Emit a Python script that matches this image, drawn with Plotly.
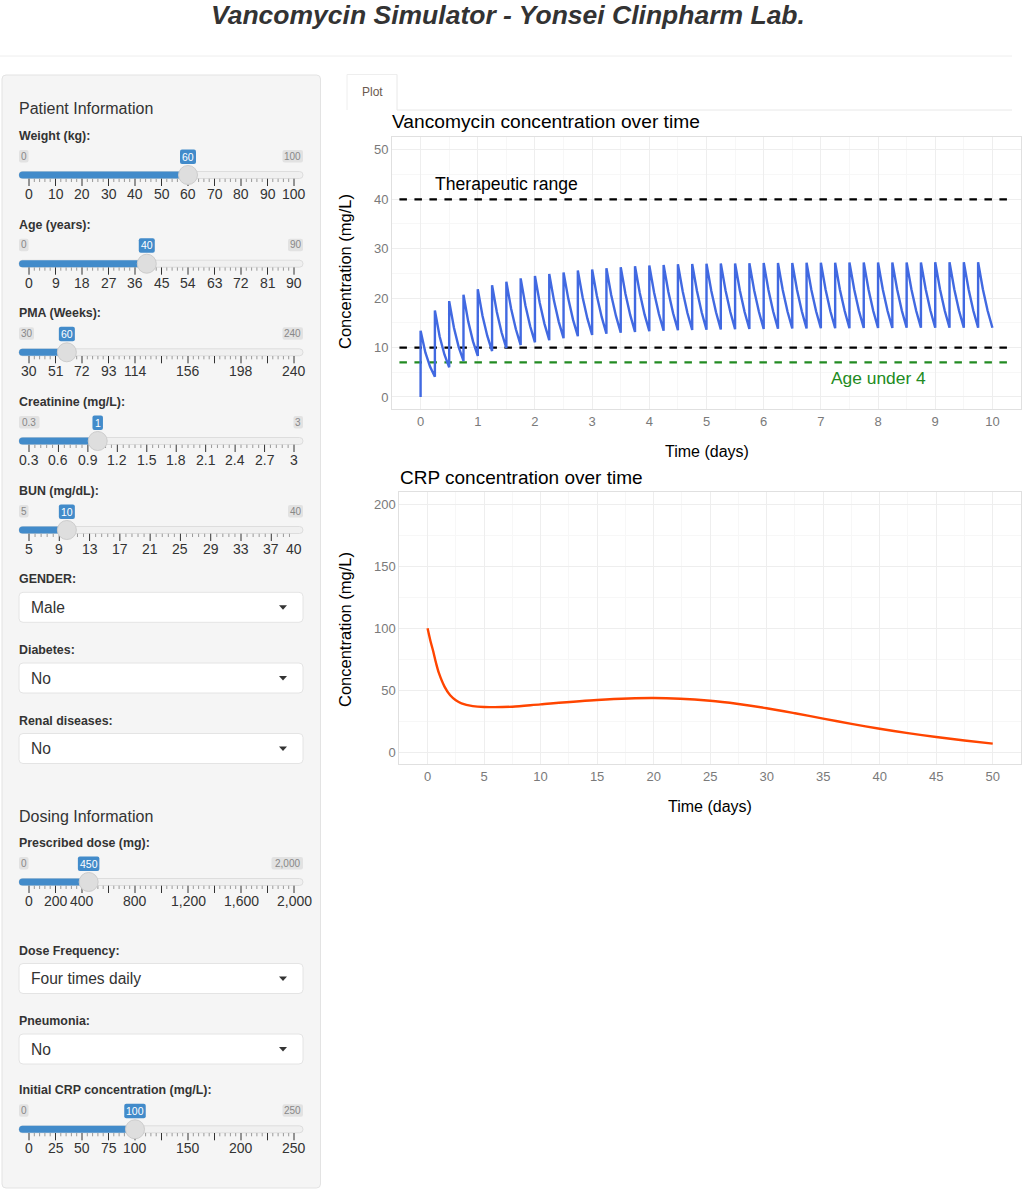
import numpy as np
import plotly.graph_objects as go

W, H = 1024, 1190
FONT = "Liberation Sans"

# Vancomycin: values read at each dose, one list per position inside the dosing interval
dose_times = [i * 0.25 for i in range(40)]
vanco_peak = [13.4, 17.5, 19.4, 20.7, 21.8, 22.6, 23.3, 24.0,
              24.5, 24.9, 25.2, 25.6, 25.8, 26.05, 26.25, 26.45,
              26.6, 26.7, 26.85, 26.9, 26.95, 27.0, 27.0, 27.05,
              27.1, 27.1, 27.1, 27.15, 27.15, 27.15, 27.2, 27.2,
              27.2, 27.2, 27.2, 27.2, 27.25, 27.25, 27.25, 27.25]
vanco_fall1 = [9.0, 12.25, 14.0, 15.25, 16.4, 17.2, 17.85, 18.5,
               19.05, 19.45, 19.85, 20.2, 20.45, 20.65, 20.85, 21.05,
               21.15, 21.25, 21.4, 21.45, 21.5, 21.55, 21.55, 21.6,
               21.65, 21.65, 21.65, 21.7, 21.7, 21.7, 21.75, 21.75,
               21.75, 21.8, 21.8, 21.8, 21.8, 21.8, 21.8, 21.8]
vanco_fall2 = [6.1, 8.6, 10.1, 11.25, 12.35, 13.05, 13.7, 14.3,
               14.8, 15.2, 15.6, 15.9, 16.2, 16.4, 16.55, 16.7,
               16.85, 16.95, 17.0, 17.1, 17.15, 17.2, 17.2, 17.25,
               17.3, 17.3, 17.35, 17.35, 17.35, 17.4, 17.4, 17.4,
               17.4, 17.45, 17.45, 17.45, 17.45, 17.45, 17.45, 17.45]
vanco_trough = [4.1, 6.0, 7.3, 8.3, 9.3, 9.9, 10.5, 11.05,
                11.5, 11.9, 12.3, 12.55, 12.8, 13.0, 13.15, 13.3,
                13.4, 13.5, 13.55, 13.6, 13.65, 13.7, 13.75, 13.75,
                13.8, 13.85, 13.85, 13.9, 13.9, 13.9, 13.95, 13.95,
                13.95, 14.0, 14.0, 14.0, 14.0, 14.0, 14.0, 14.0]

# CRP curve
crp_days = [0, 0.25, 0.5, 0.75, 1, 1.5, 2, 2.5, 3, 4, 5, 7.5, 10, 15, 20,
            25, 27.5, 30, 32.5, 35, 37.5, 40, 42.5, 45, 47.5, 50]
crp_conc = [100, 90, 81.5, 72, 64, 53, 46, 42, 39.5, 37.3, 36.6, 36.8, 38.7, 42.2, 43.8,
            41.6, 39, 35.6, 31.5, 27.2, 23, 19, 15.5, 12.4, 9.6, 7]

# reference lines
limit_x = [-0.37, 10.36]
upper_limit = [40, 40]
lower_limit = [10, 10]
child_limit = [7, 7]

# slider panel: label, min, max, value, grid step, tick labels (blank where shiny drops one)
sliders = [
    ("Weight (kg):", 0, 100, 60, 10, ["0", "10", "20", "30", "40", "50", "60", "70", "80", "90", "100"], "0", "100", 175),
    ("Age (years):", 0, 90, 40, 9, ["0", "9", "18", "27", "36", "45", "54", "63", "72", "81", "90"], "0", "90", 263.7),
    ("PMA (Weeks):", 30, 240, 60, 21, ["30", "51", "72", "93", "114", "", "156", "", "198", "", "240"], "30", "240", 352.3),
    ("Creatinine (mg/L):", 0.3, 3, 1, 0.3, ["0.3", "0.6", "0.9", "1.2", "1.5", "1.8", "2.1", "2.4", "2.7", "3"], "0.3", "3", 441),
    ("BUN (mg/dL):", 5, 40, 10, 4, ["5", "9", "13", "17", "21", "25", "29", "33", "37", "40"], "5", "40", 530),
    ("Prescribed dose (mg):", 0, 2000, 450, 200, ["0", "200", "400", "", "800", "", "1,200", "", "1,600", "", "2,000"], "0", "2,000", 882),
    ("Initial CRP concentration (mg/L):", 0, 250, 100, 25, ["0", "25", "50", "75", "100", "", "150", "", "200", "", "250"], "0", "250", 1129.3),
]
dropdowns = [("GENDER:", "Male", 592.3), ("Diabetes:", "No", 663), ("Renal diseases:", "No", 733.5),
             ("Dose Frequency:", "Four times daily", 963.5), ("Pneumonia:", "No", 1034)]
headers = [("Patient Information", 108.5), ("Dosing Information", 816.7)]


def px(x):
    return x / W


def py(y):
    return 1 - y / H


def rrect(x0, y0, x1, y1, r, fill, line=None, lw=1):
    # rounded box given in page pixels
    a, b, c, d = px(x0), py(y0), px(x1), py(y1)
    rx, ry = r / W, r / H
    path = (f"M {a + rx} {b} L {c - rx} {b} Q {c} {b} {c} {b - ry} L {c} {d + ry} Q {c} {d} {c - rx} {d} "
            f"L {a + rx} {d} Q {a} {d} {a} {d + ry} L {a} {b - ry} Q {a} {b} {a + rx} {b} Z")
    return dict(type="path", xref="paper", yref="paper", path=path, fillcolor=fill,
                line=dict(color=line or fill, width=lw if line else 0), layer="below")


def hline(x0, x1, y, color, lw=1):
    return dict(type="line", xref="paper", yref="paper", x0=px(x0), x1=px(x1), y0=py(y), y1=py(y),
                line=dict(color=color, width=lw), layer="below")


def text(x, y, s, size, color="#333333", anchor="left", bold=False):
    if bold:
        s = f"<b>{s}</b>"
    return dict(xref="paper", yref="paper", x=px(x), y=py(y), text=s, showarrow=False,
                xanchor=anchor, yanchor="middle", borderpad=0, borderwidth=0,
                font=dict(family=FONT, size=size, color=color))


shapes = []
notes = []

# page furniture
notes.append(text(508, 15, "<b><i>Vancomycin Simulator - Yonsei Clinpharm Lab.</i></b>", 26.5, "#333333", "center"))
shapes.append(hline(0, 1012, 56, "#eeeeee"))
shapes.append(rrect(2, 75, 320.5, 1188, 4, "#f5f5f5", "#e3e3e3"))
shapes.append(hline(397, 1012, 110, "#e8e8e8"))
shapes.append(hline(347, 397, 74.5, "#eeeeee"))
shapes.append(dict(type="line", xref="paper", yref="paper", x0=px(347), x1=px(347), y0=py(74.5), y1=py(110),
                   line=dict(color="#eeeeee", width=1), layer="below"))
shapes.append(dict(type="line", xref="paper", yref="paper", x0=px(397), x1=px(397), y0=py(74.5), y1=py(110),
                   line=dict(color="#e8e8e8", width=1), layer="below"))
notes.append(text(372, 92.5, "Plot", 12, "#6b5a50", "center"))

for name, y in headers:
    notes.append(text(19, y, name, 16))

GRID_L, GRID_R = 29, 294
for label, lo, hi, val, step, tick_labels, lo_txt, hi_txt, y in sliders:
    scale = (GRID_R - GRID_L) / (hi - lo)
    hx = GRID_L + (val - lo) * scale

    notes.append(text(19, y - 39, label, 12.4, "#333333", bold=True))

    # min / max / value chips
    w_lo = 5.5 * len(lo_txt) + 4
    w_hi = 5.5 * len(hi_txt) + 4
    shapes.append(rrect(19, y - 25, 19 + w_lo, y - 12.5, 2, "#e2e2e2"))
    shapes.append(rrect(303 - w_hi, y - 25, 303, y - 12.5, 2, "#e2e2e2"))
    notes.append(text(19 + w_lo / 2, y - 18.7, lo_txt, 10, "#888888", "center"))
    notes.append(text(303 - w_hi / 2, y - 18.7, hi_txt, 10, "#888888", "center"))
    w_val = 5.5 * len(str(val)) + 5
    shapes.append(rrect(hx - w_val / 2, y - 25.5, hx + w_val / 2, y - 11, 2, "#428bca"))
    notes.append(text(hx, y - 18.2, str(val), 10.5, "#ffffff", "center"))

    # track
    shapes.append(rrect(19, y - 3.5, 303, y + 3.5, 3.5, "#f0f0f0", "#dddddd"))
    shapes.append(rrect(19, y - 3.5, hx, y + 3.5, 3.5, "#428bca"))

    # grid ticks
    major, minor = "", ""
    n = 0
    t = lo
    while t <= hi + 1e-9:
        tx = px(GRID_L + (t - lo) * scale)
        if n % 5 == 0:
            major += f"M {tx} {py(y + 3.7)} L {tx} {py(y + 11)} "
        else:
            minor += f"M {tx} {py(y + 3.7)} L {tx} {py(y + 7)} "
        n += 1
        t = lo + n * step / 5
    shapes.append(dict(type="path", xref="paper", yref="paper", path=minor, line=dict(color="#999999", width=1), layer="below"))
    shapes.append(dict(type="path", xref="paper", yref="paper", path=major, line=dict(color="#333333", width=1), layer="below"))
    for i, s in enumerate(tick_labels):
        if not s:
            continue
        v = min(lo + i * step, hi)
        notes.append(text(GRID_L + (v - lo) * scale, y + 19, s, 14, "#333333", "center"))

    # handle
    shapes.append(dict(type="circle", xref="paper", yref="paper", x0=px(hx - 9.5), x1=px(hx + 9.5),
                       y0=py(y + 9.5), y1=py(y - 9.5), fillcolor="#dedede",
                       line=dict(color="#cccccc", width=1), layer="above"))

for label, value, y in dropdowns:
    notes.append(text(19, y - 13, label, 12.4, "#333333", bold=True))
    shapes.append(rrect(19, y, 303, y + 30, 4, "#ffffff", "#e4e4e4"))
    notes.append(text(30.5, y + 15, value, 15.6, "#333333"))
    cx, cy = px(283), py(y + 15)
    shapes.append(dict(type="path", xref="paper", yref="paper", fillcolor="#333333", line=dict(width=0), layer="above",
                       path=f"M {cx - 4 / W} {cy + 2 / H} L {cx + 4 / W} {cy + 2 / H} L {cx} {cy - 2.5 / H} Z"))

# vancomycin trace, built dose by dose
vanco_x = [0]
vanco_y = [0]
for t, a, b, c, d in zip(dose_times, vanco_peak, vanco_fall1, vanco_fall2, vanco_trough):
    vanco_x += [t, t + 0.25 / 3, t + 0.5 / 3, t + 0.25]
    vanco_y += [a, b, c, d]

fig = go.Figure()
fig.add_trace(go.Scatter(x=limit_x, y=upper_limit, mode="lines", xaxis="x", yaxis="y",
                         line=dict(color="black", width=2.2, dash="7.5px,7.5px")))
fig.add_trace(go.Scatter(x=limit_x, y=lower_limit, mode="lines", xaxis="x", yaxis="y",
                         line=dict(color="black", width=2.2, dash="7.5px,7.5px")))
fig.add_trace(go.Scatter(x=limit_x, y=child_limit, mode="lines", xaxis="x", yaxis="y",
                         line=dict(color="#228B22", width=2.2, dash="7.5px,7.5px")))
fig.add_trace(go.Scatter(x=vanco_x, y=vanco_y, mode="lines", xaxis="x", yaxis="y",
                         line=dict(color="#4169E1", width=2.4)))
fig.add_trace(go.Scatter(x=crp_days, y=crp_conc, mode="lines", xaxis="x2", yaxis="y2",
                         line=dict(color="#FF4500", width=2.4, shape="spline", smoothing=0.8)))


def axis(domain, rng, dtick, minor_dtick, anchor):
    return dict(domain=domain, range=rng, dtick=dtick, tick0=0, anchor=anchor,
                showgrid=True, gridcolor="#eeeeee", gridwidth=1, zeroline=False,
                showline=True, linecolor="#e0e0e0", linewidth=1, mirror=True, ticks="",
                tickfont=dict(family=FONT, size=13, color="#7a7a7a"),
                minor=dict(dtick=minor_dtick, tick0=0, showgrid=True, gridcolor="#f7f7f7", gridwidth=1))


notes.append(text(392, 122, "Vancomycin concentration over time", 19.2, "black"))
notes.append(text(400, 477, "CRP concentration over time", 19, "black"))
notes.append(text(707, 451, "Time (days)", 16, "black", "center"))
notes.append(text(710, 806, "Time (days)", 16, "black", "center"))
for y in [272, 630]:
    lab = text(345, y, "Concentration (mg/L)", 16.5, "black", "center")
    lab["textangle"] = -90
    notes.append(lab)
notes.append(dict(xref="x", yref="y", x=1.5, y=43, text="Therapeutic range", showarrow=False,
                  font=dict(family=FONT, size=17.6, color="black")))
notes.append(dict(xref="x", yref="y", x=8, y=3.85, text="Age under 4", showarrow=False,
                  font=dict(family=FONT, size=17.4, color="#228B22")))

fig.update_layout(
    width=W, height=H, autosize=False, showlegend=False,
    margin=dict(l=0, r=0, t=0, b=0, pad=0),
    paper_bgcolor="white", plot_bgcolor="white",
    shapes=shapes, annotations=notes,
    xaxis=axis([px(392), px(1021)], [-0.5, 10.5], 1, 0.5, "y"),
    yaxis=axis([py(409), py(137)], [-2.43, 52.6], 10, 5, "x"),
    xaxis2=axis([px(399.3), px(1021)], [-2.5, 52.5], 5, 2.5, "y2"),
    yaxis2=axis([py(764), py(492.3)], [-9.4, 209.7], 50, 25, "x2"),
)

fig.write_html("out.html", config=dict(displayModeBar=False),
               post_script="document.body.style.margin='0';document.documentElement.style.overflow='hidden';")
